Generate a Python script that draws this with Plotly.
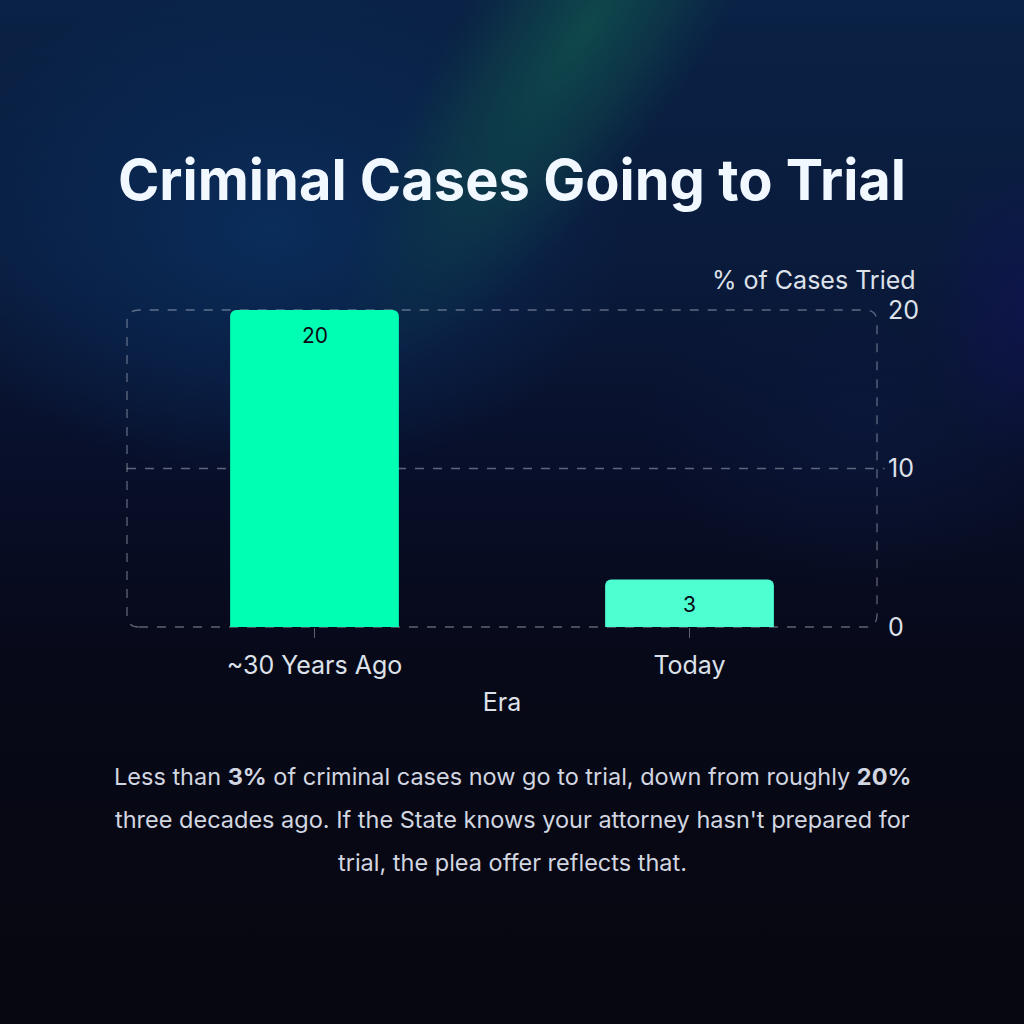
import base64
import plotly.graph_objects as go

# ---- data ----
categories = ["~30 Years Ago", "Today"]
values = [20, 3]
bar_colors = ["#00FFB3", "#4DFFD1"]
y_ticks = [0, 10, 20]

W, H = 1024, 1024
ML, MR, MT, MB = 127, 147, 310, 397
PW, PH = W - ML - MR, H - MT - MB

svg = """<svg xmlns='http://www.w3.org/2000/svg' width='1024' height='1024' viewBox='0 0 1024 1024'>
<defs>
<linearGradient id='base' x1='0' y1='0' x2='0' y2='1'>
 <stop offset='0' stop-color='#0a2246'/>
 <stop offset='0.25' stop-color='#0a1b3c'/>
 <stop offset='0.45' stop-color='#080f2a'/>
 <stop offset='0.65' stop-color='#070918'/>
 <stop offset='1' stop-color='#07070f'/>
</linearGradient>
<radialGradient id='teal' cx='0.5' cy='0.5' r='0.5'>
 <stop offset='0' stop-color='#0f4a4c' stop-opacity='0.95'/>
 <stop offset='0.55' stop-color='#0e4048' stop-opacity='0.6'/>
 <stop offset='1' stop-color='#0d3848' stop-opacity='0'/>
</radialGradient>
<radialGradient id='blue' cx='0.5' cy='0.5' r='0.5'>
 <stop offset='0' stop-color='#0a2f5e' stop-opacity='0.9'/>
 <stop offset='0.6' stop-color='#0a2a56' stop-opacity='0.5'/>
 <stop offset='1' stop-color='#0a2a56' stop-opacity='0'/>
</radialGradient>
<radialGradient id='navy' cx='0.5' cy='0.5' r='0.5'>
 <stop offset='0' stop-color='#0c1a40' stop-opacity='0.6'/>
 <stop offset='1' stop-color='#0c1a40' stop-opacity='0'/>
</radialGradient>
<radialGradient id='purple' cx='0.5' cy='0.5' r='0.5'>
 <stop offset='0' stop-color='#12125a' stop-opacity='0.55'/>
 <stop offset='1' stop-color='#12125a' stop-opacity='0'/>
</radialGradient>
</defs>
<rect width='1024' height='1024' fill='url(#base)'/>
<ellipse cx='270' cy='230' rx='360' ry='250' fill='url(#blue)'/>
<ellipse cx='860' cy='420' rx='220' ry='160' fill='url(#navy)'/>
<ellipse cx='585' cy='30' rx='115' ry='400' fill='url(#teal)' transform='rotate(34 585 30)'/>
<ellipse cx='1030' cy='310' rx='110' ry='160' fill='url(#purple)'/>
</svg>"""
bg_uri = "data:image/svg+xml;base64," + base64.b64encode(svg.encode()).decode()

fig = go.Figure()
fig.add_trace(go.Bar(
    x=categories, y=values,
    marker=dict(color=bar_colors, line=dict(width=0)),
    width=0.45,
    hoverinfo="skip",
))

# value labels inside the top of each bar
for c, v in zip(categories, values):
    fig.add_annotation(x=c, y=v, xref="x", yref="y", text=str(v), showarrow=False,
                       yanchor="middle", yshift=-25,
                       font=dict(family="Inter", size=21, color="#0a0a14"))

gray = "rgba(200,205,220,0.45)"
rx, ry = 12 / PW, 12 / PH
path = (f"M {rx},0 L {1-rx},0 Q 1,0 1,{ry} L 1,{1-ry} Q 1,1 {1-rx},1 "
        f"L {rx},1 Q 0,1 0,{1-ry} L 0,{ry} Q 0,0 {rx},0 Z")
fig.add_shape(type="path", path=path, xref="paper", yref="paper",
              line=dict(color=gray, width=1.3, dash="dash"), layer="below")
fig.add_shape(type="line", xref="paper", yref="y", x0=0, x1=1.01, y0=10, y1=10,
              line=dict(color=gray, width=1.3, dash="dash"), layer="below")

fig.add_layout_image(dict(source=bg_uri, xref="paper", yref="paper",
                          x=-ML / PW, y=1 + MT / PH, sizex=W / PW, sizey=H / PH,
                          xanchor="left", yanchor="top", sizing="stretch", layer="below"))

fig.update_layout(
    width=W, height=H,
    margin=dict(l=ML, r=MR, t=MT, b=MB),
    paper_bgcolor="#07070f", plot_bgcolor="rgba(0,0,0,0)",
    showlegend=False,
    barcornerradius=6,
    font=dict(family="Inter", color="#dde1ea"),
    title=dict(text="<b>Criminal Cases Going to Trial</b>", x=0.5, xanchor="center",
               y=1 - 180 / H, yanchor="middle",
               font=dict(family="Inter", size=56, color="#f2f8ff")),
    xaxis=dict(showgrid=False, zeroline=False, showline=False,
               ticks="outside", ticklen=10, tickcolor=gray, tickwidth=1.3,
               ticklabelstandoff=6,
               tickfont=dict(size=25, color="#dde1ea"),
               title=dict(text="Era", font=dict(size=25, color="#dde1ea"), standoff=14)),
    yaxis=dict(side="right", range=[0, 20], tickvals=y_ticks, showgrid=False,
               zeroline=False, showline=False, ticks="", ticklabelstandoff=10,
               tickfont=dict(size=25, color="#dde1ea")),
)

fig.add_annotation(text="% of Cases Tried", xref="paper", yref="paper",
                   x=(918 - ML) / PW, y=1 + 30 / PH, xanchor="right", yanchor="middle",
                   showarrow=False, font=dict(size=25, color="#dde1ea"))

caption_lines = [
    "Less than <b>3%</b> of criminal cases now go to trial, down from roughly <b>20%</b>",
    "three decades ago. If the State knows your attorney hasn't prepared for",
    "trial, the plea offer reflects that.",
]
caption_y = [776, 819, 862]
for line, yy in zip(caption_lines, caption_y):
    fig.add_annotation(text=line, xref="paper", yref="paper",
                       x=(512 - ML) / PW, y=1 - (yy - MT) / PH,
                       xanchor="center", yanchor="middle", showarrow=False,
                       font=dict(size=23.5, color="#d2d6e0"))

fig.write_html("out.html")
